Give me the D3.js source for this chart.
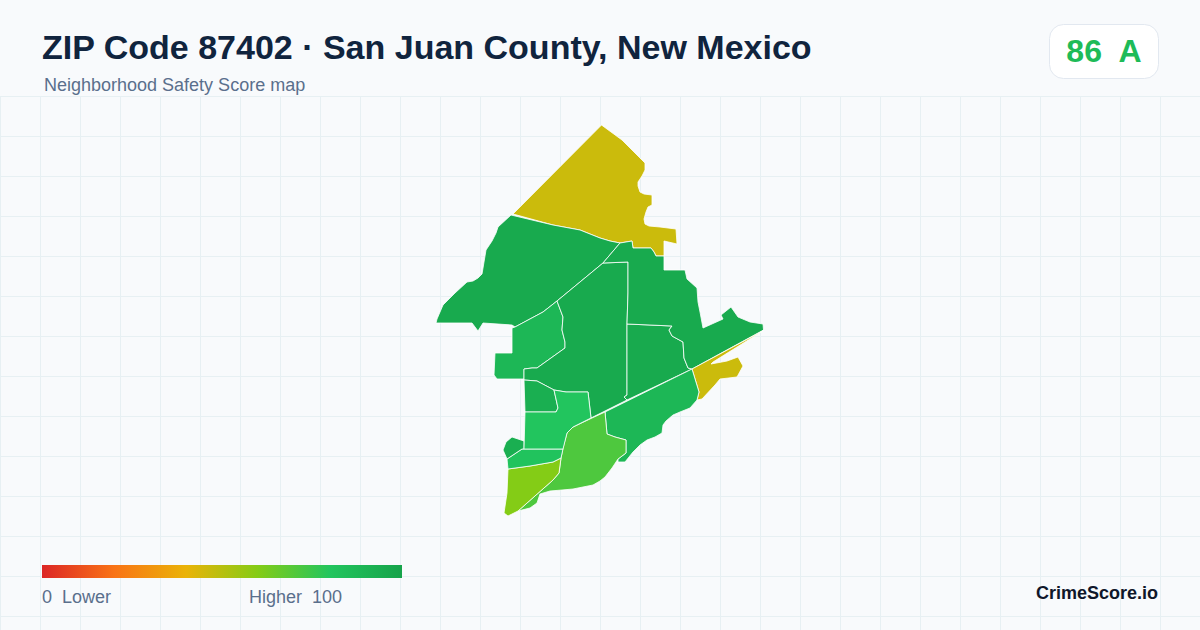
<!DOCTYPE html>
<html lang="en">
<head>
<meta charset="UTF-8">
<title>ZIP Code 87402</title>
<script src="https://d3js.org/d3.v7.min.js"></script>
<style>
	html, body { margin: 0; padding: 0; background: #f8fafc; }
	svg { display: block; font-family: "Liberation Sans", Arial, sans-serif; }
</style>
</head>
<body>
<svg id="chart" width="1200" height="630"></svg>
<script>
	// -------------------------
	// Data
	// -------------------------
	var titleText = "ZIP Code 87402 · San Juan County, New Mexico";
	var subtitleText = "Neighborhood Safety Score map";
	var zipScore = 86;
	var zipGrade = "A";

	var legendStops = [0, 20, 40, 60, 80, 100];
	var legendColors = ["#dc2626", "#f97316", "#eab308", "#84cc16", "#22c55e", "#16a34a"];

	var tractScores = [46, 96, 88, 96, 96, 96, 46, 88, 71, 60, 81, 93, 93, 80];

	// one outline per tract, in map units
	var tractRings = [
		// north
		[[601.5,125],[513,214],[553,225],[580,230],[600,238],[610,241],[620,243],[632,241],[633,248],[651,248],[654,252],[656,256],[664,256],[664,241],[677,244],[676,229],[660,227],[649,226],[645,224],[644,219],[646,212],[648,207],[652,205],[652,195],[644,194],[640,192],[638,186],[638,182],[642,176],[645,170],[645,163],[633,151],[622,140]],
		// north west
		[[511,215],[553,225],[580,230],[600,238],[610,241],[620,243],[603,263],[557,301],[543,312],[515,327],[512,325],[483,323],[478,331],[472,323],[436,323],[437,319],[443,305],[455,293],[467,282],[473,281],[478,278],[482,274],[484,262],[486,250],[492,241],[496,233],[498,227]],
		// west
		[[512,328],[512,353],[495,353],[494,375],[497,379],[524,379],[524,369],[532,368],[537,368],[565,348],[565,342],[562,330],[563,317],[557,301],[543,312],[515,327]],
		// central
		[[603,263],[628,262],[628,293],[627,324],[627,395],[624,397],[627,400],[591,418],[588,392],[566,392],[554,390],[537,381],[524,380],[524,369],[532,368],[537,368],[565,348],[565,342],[562,330],[563,317],[557,301]],
		// east central
		[[627,324],[650,325],[672,326],[669,330],[672,336],[683,342],[684,358],[688,368],[692,369],[627,400],[624,397],[627,395]],
		// north east
		[[620,243],[632,241],[633,248],[651,248],[654,252],[656,256],[664,256],[664,270],[685,270],[687,279],[697,288],[698,302],[700,312],[703,328],[723,319],[721,315],[731,307],[738,317],[750,322],[763,324],[763.5,330],[692,369],[688,368],[684,358],[683,342],[672,336],[669,330],[672,326],[650,325],[627,324],[628,293],[628,262],[603,263]],
		// south east strip
		[[692,369],[699,392],[697,400],[702,399],[715,385],[720,379],[737,377],[743,366],[738,357],[727,361],[711,364],[713,362],[763.5,330.5]],
		// south east
		[[692,369],[699,392],[697,400],[690,408],[680,412],[673,415],[666,421],[663,425],[662,433],[655,437],[647,440],[640,445],[633,452],[625,462],[618,462],[618,459],[626,453],[626,440],[615,437],[607,434],[605,412]],
		// south
		[[605,412],[592,418],[573,427],[567,433],[563,448],[561,458],[559,473],[553,480],[518,511],[530,508],[537,503],[540,494],[550,491],[562,490],[573,489],[593,485],[600,481],[605,477],[612,468],[618,459],[626,453],[626,440],[615,437],[607,434]],
		// south west
		[[508,469],[530,466],[553,462],[561,458],[559,473],[553,480],[518,511],[508,516],[504,513],[507,493]],
		// south west strip
		[[507,459],[522,449],[563,449],[561,458],[553,462],[530,466],[508,469]],
		// west blob
		[[503,450],[506,442],[512,437],[524,441],[524,449],[522,449],[507,459]],
		// small block
		[[524,380],[537,381],[554,390],[558,408],[556,412],[525,412]],
		// center south
		[[525,412],[556,412],[558,408],[554,390],[566,392],[588,392],[591,418],[573,427],[567,433],[563,449],[524,449]]
	];

	// --------------------
	// Setup
	// --------------------
	var svg = d3.select("#chart");
	var scoreColor = d3.scaleLinear().domain(legendStops).range(legendColors);

	// Background grid
	var grid = svg.append("g").attr("stroke", "#e7f0f3").attr("stroke-width", 1);
	grid.selectAll("line.v")
		.data(d3.range(0.5, 1200, 40)).enter()
		.append("line").attr("class", "v")
		.attr("x1", function(d) { return d; }).attr("x2", function(d) { return d; })
		.attr("y1", 97).attr("y2", 630);
	grid.selectAll("line.h")
		.data(d3.range(96.5, 630, 40)).enter()
		.append("line").attr("class", "h")
		.attr("x1", 0).attr("x2", 1200)
		.attr("y1", function(d) { return d; }).attr("y2", function(d) { return d; });

	// --------------------
	// Map
	// --------------------
	var features = tractRings.map(function(ring, i) {
		return {
			type: "Feature",
			properties: { score: tractScores[i] },
			geometry: { type: "Polygon", coordinates: [ring.concat([ring[0]])] }
		};
	});
	var collection = { type: "FeatureCollection", features: features };
	var projection = d3.geoIdentity().fitExtent([[436, 125], [763.5, 516]], collection);
	var path = d3.geoPath(projection);

	svg.append("g").selectAll("path")
		.data(features).enter()
		.append("path")
		.attr("d", path)
		.attr("fill", function(d) { return scoreColor(d.properties.score); })
		.attr("stroke", "#ffffff")
		.attr("stroke-width", 0.8)
		.attr("stroke-linejoin", "round");

	// --------------------
	// Header
	// --------------------
	svg.append("text").attr("x", 42).attr("y", 59)
		.attr("font-size", 34).attr("font-weight", 700).attr("fill", "#10243e")
		.text(titleText);
	svg.append("text").attr("x", 44).attr("y", 91)
		.attr("font-size", 18).attr("fill", "#5a6f8c")
		.text(subtitleText);

	// Score badge
	svg.append("rect").attr("x", 1049.5).attr("y", 24.5)
		.attr("width", 109).attr("height", 54).attr("rx", 14)
		.attr("fill", "#ffffff").attr("stroke", "#e2e8f0");
	svg.append("text").attr("x", 1104).attr("y", 62)
		.attr("text-anchor", "middle").attr("xml:space", "preserve")
		.attr("font-size", 32).attr("font-weight", 700).attr("fill", scoreColor(zipScore))
		.text(zipScore + "  " + zipGrade);

	// --------------------
	// Legend
	// --------------------
	var legendX = d3.scaleLinear().domain([0, 100]).range([42, 402]);
	var gradient = svg.append("defs").append("linearGradient").attr("id", "legendGradient");
	gradient.selectAll("stop")
		.data(legendStops).enter()
		.append("stop")
		.attr("offset", function(d) { return d + "%"; })
		.attr("stop-color", function(d) { return scoreColor(d); });

	svg.append("rect")
		.attr("x", legendX(0)).attr("y", 565)
		.attr("width", legendX(100) - legendX(0)).attr("height", 13)
		.attr("fill", "url(#legendGradient)");

	svg.append("text").attr("x", 42).attr("y", 603).attr("xml:space", "preserve")
		.attr("font-size", 18).attr("fill", "#5a6f8c").text("0  Lower");
	svg.append("text").attr("x", 249).attr("y", 603).attr("xml:space", "preserve")
		.attr("font-size", 18).attr("fill", "#5a6f8c").text("Higher  100");

	svg.append("text").attr("x", 1158).attr("y", 599)
		.attr("text-anchor", "end")
		.attr("font-size", 18).attr("font-weight", 700).attr("fill", "#0f172a")
		.text("CrimeScore.io");
</script>
</body>
</html>
